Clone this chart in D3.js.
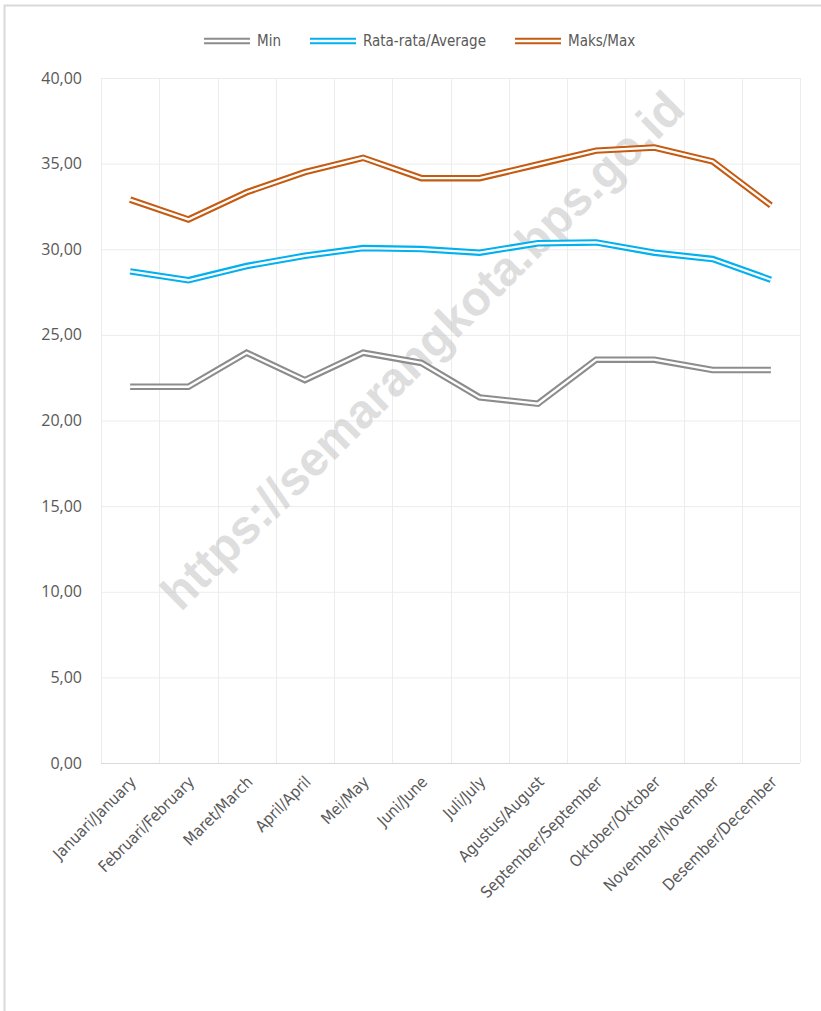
<!DOCTYPE html>
<html lang="id">
  <head>
    <meta charset="UTF-8" />
    <title>Suhu Udara</title>
    <script src="https://d3js.org/d3.v7.min.js"></script>
    <style>
      body {
        margin: 0;
        background: #fff;
      }
      svg {
        display: block;
      }
      .cond {
        font-family: "Liberation Sans Narrow", "DejaVu Sans Condensed", sans-serif;
        font-stretch: condensed;
      }
      .ytick {
        font-family: "Open Sans", sans-serif;
        font-size: 16px;
        fill: #595959;
      }
    </style>
  </head>
  <body>
    <svg id="chart" width="821" height="1011"></svg>
    <script>
      const months = [
        "Januari/January", "Februari/February", "Maret/March", "April/April",
        "Mei/May", "Juni/June", "Juli/July", "Agustus/August",
        "September/September", "Oktober/Oktober", "November/November", "Desember/December"
      ];
      const minVals = [21.97, 21.97, 23.96, 22.36, 23.96, 23.36, 21.35, 20.98, 23.55, 23.55, 22.95, 22.95];
      const avgVals = [28.71, 28.19, 29.02, 29.62, 30.07, 30.01, 29.8, 30.35, 30.4, 29.8, 29.43, 28.22];
      const maxVals = [32.9, 31.74, 33.33, 34.5, 35.34, 34.15, 34.15, 34.95, 35.76, 35.94, 35.13, 32.56];
      const yTicks = [0, 5, 10, 15, 20, 25, 30, 35, 40];

      const series = [
        { name: "Min", values: minVals, color: "#8c8c8c" },
        { name: "Rata-rata/Average", values: avgVals, color: "#00b0f0" },
        { name: "Maks/Max", values: maxVals, color: "#c55a11" }
      ];

      const svg = d3.select("#chart");

      // outer frame
      svg.append("rect")
        .attr("x", 4.5).attr("y", 5.5)
        .attr("width", 830).attr("height", 1020)
        .attr("fill", "none").attr("stroke", "#d9d9d9").attr("stroke-width", 2);

      const plotL = 101, plotR = 800, plotT = 78, plotB = 763;

      const x = d3.scaleBand().domain(months).range([plotL, plotR]);
      const y = d3.scaleLinear().domain([0, 40]).range([plotB, plotT]);

      // grid
      const grid = svg.append("g");
      grid.selectAll("line.h")
        .data(yTicks)
        .enter()
        .append("line")
        .attr("x1", plotL).attr("x2", plotR)
        .attr("y1", (d) => y(d) + 0.5).attr("y2", (d) => y(d) + 0.5)
        .attr("stroke", (d) => (d === 0 ? "#d9d9d9" : "#ececec"))
        .attr("stroke-width", 1);
      const vEdges = months.map((m) => x(m)).concat([plotR]);
      grid.selectAll("line.v")
        .data(vEdges)
        .enter()
        .append("line")
        .attr("x1", (d) => Math.round(d) + 0.5).attr("x2", (d) => Math.round(d) + 0.5)
        .attr("y1", plotT).attr("y2", plotB)
        .attr("stroke", "#ececec")
        .attr("stroke-width", 1);

      // y tick labels
      svg.append("g")
        .selectAll("text")
        .data(yTicks)
        .enter()
        .append("text")
        .attr("class", "ytick")
        .attr("x", 82)
        .attr("y", (d) => y(d))
        .attr("dy", "0.35em")
        .attr("text-anchor", "end")
        .text((d) => d3.format(".2f")(d).replace(".", ","));

      // x labels
      svg.append("g")
        .selectAll("text")
        .data(months)
        .enter()
        .append("text")
        .attr("class", "cond")
        .attr("transform", (d) => `translate(${x(d) + x.bandwidth() / 2 + 7},${plotB + 20}) rotate(-45)`)
        .attr("text-anchor", "end")
        .attr("font-size", 16)
        .attr("fill", "#595959")
        .text((d) => d);

      // watermark
      svg.append("text")
        .attr("transform", "translate(422,350) rotate(-44.7)")
        .attr("text-anchor", "middle")
        .attr("dy", "0.35em")
        .attr("font-family", "'Liberation Sans', Arial, sans-serif")
        .attr("font-weight", "bold")
        .attr("font-size", 48)
        .attr("fill", "#bfbfbf")
        .attr("opacity", 0.5)
        .text("https://semarangkota.bps.go.id");

      // lines (double-line style: wide colour stroke + thin white core)
      const line = d3.line()
        .x((d, i) => x(months[i]) + x.bandwidth() / 2)
        .y((d) => y(d));

      const lines = svg.append("g");
      series.forEach((s) => {
        lines.append("path")
          .attr("d", line(s.values))
          .attr("fill", "none")
          .attr("stroke", s.color)
          .attr("stroke-width", 6.5);
        lines.append("path")
          .attr("d", line(s.values))
          .attr("fill", "none")
          .attr("stroke", "#fff")
          .attr("stroke-width", 2.3);
      });

      // legend
      const legendPos = [204, 310, 515];
      const legend = svg.append("g");
      series.forEach((s, i) => {
        const lx = legendPos[i];
        legend.append("line")
          .attr("x1", lx).attr("x2", lx + 46)
          .attr("y1", 41).attr("y2", 41)
          .attr("stroke", s.color).attr("stroke-width", 6.5);
        legend.append("line")
          .attr("x1", lx).attr("x2", lx + 46)
          .attr("y1", 41).attr("y2", 41)
          .attr("stroke", "#fff").attr("stroke-width", 2.3);
        legend.append("text")
          .attr("class", "cond")
          .attr("x", lx + 53)
          .attr("y", 41)
          .attr("dy", "0.35em")
          .attr("font-size", 15)
          .attr("fill", "#595959")
          .text(s.name);
      });
    </script>
  </body>
</html>
